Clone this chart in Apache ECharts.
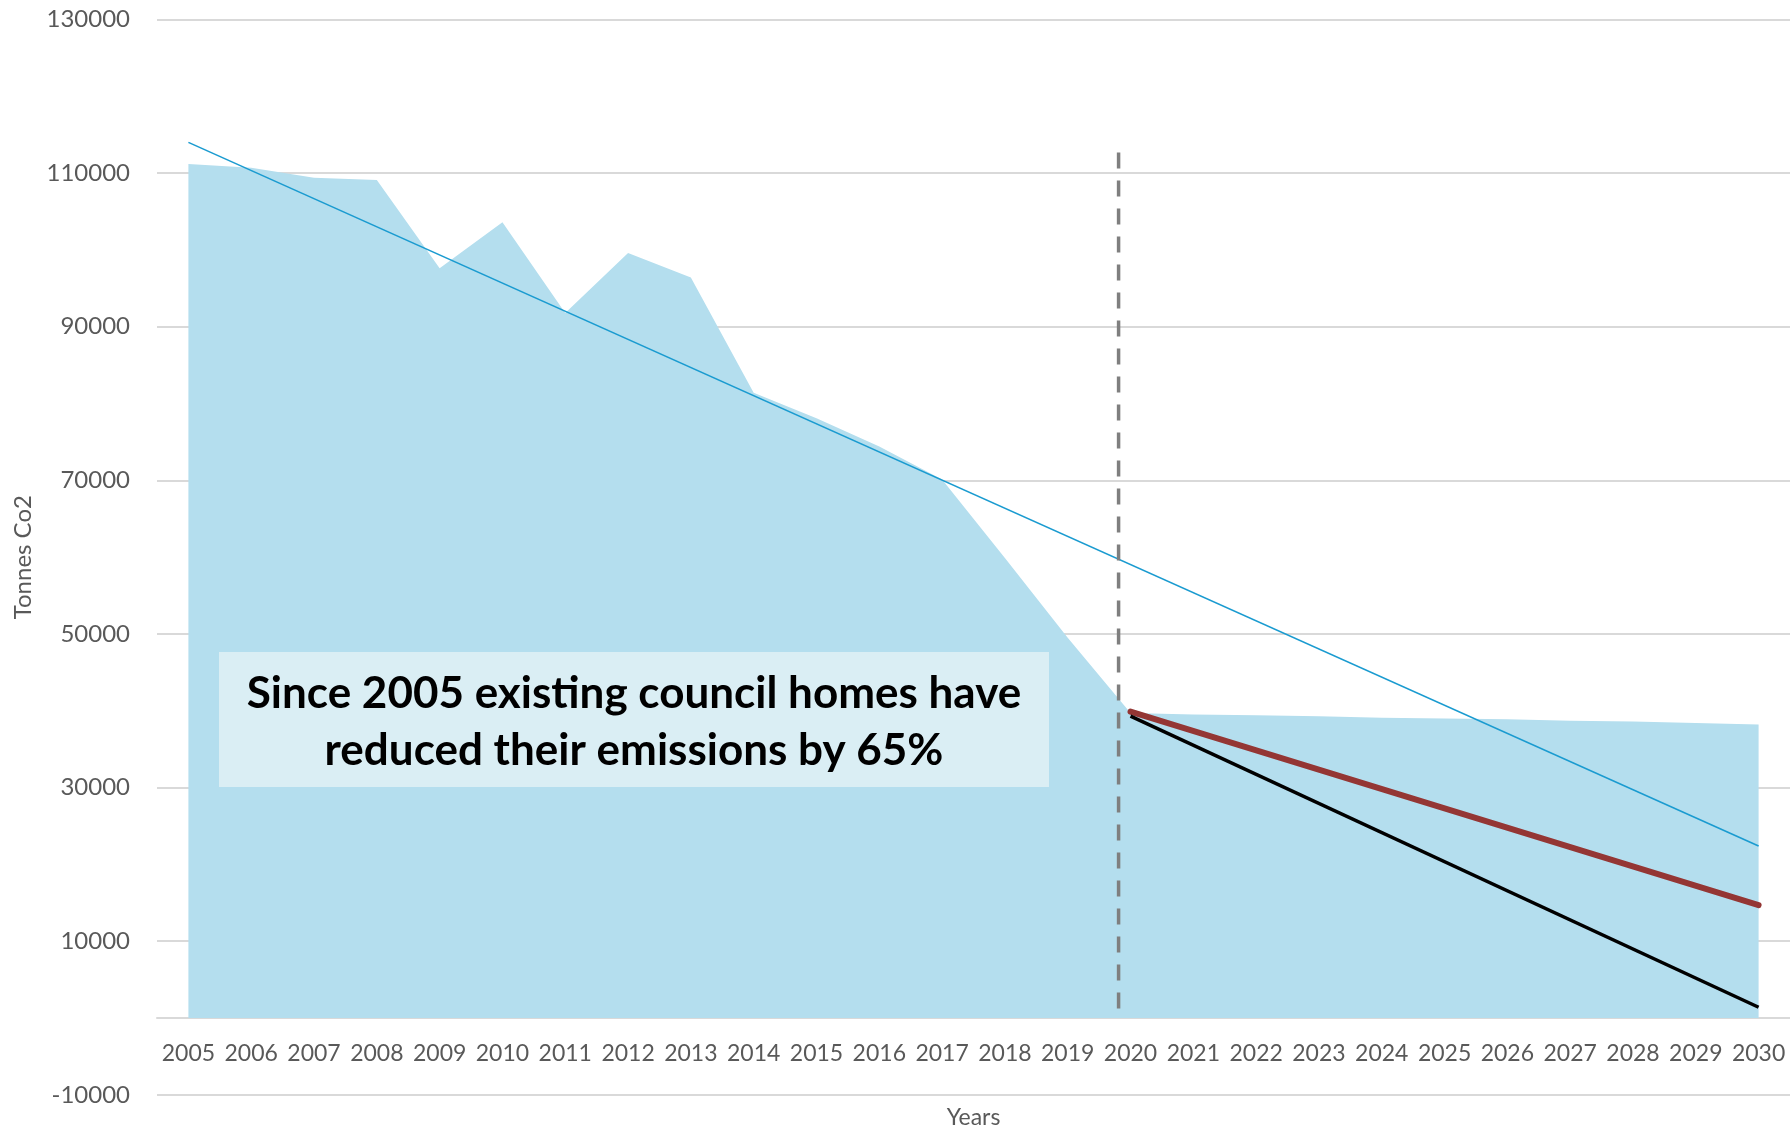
<!DOCTYPE html>
<html>
<head>
<meta charset="utf-8">
<script src="https://cdn.jsdelivr.net/npm/echarts@6/dist/echarts.min.js"></script>
<style>
html,body{margin:0;padding:0;background:#fff;}
#chart{width:1790px;height:1128px;}
</style>
</head>
<body>
<div id="chart"></div>
<script>
// ---- data ----
const years = ['2005','2006','2007','2008','2009','2010','2011','2012','2013','2014','2015','2016','2017','2018','2019','2020','2021','2022','2023','2024','2025','2026','2027','2028','2029','2030'];
const emissions = [111200,110700,109400,109100,97600,103600,91800,99600,96400,81400,78100,74400,70100,59900,49500,39700,39500,39400,39300,39100,39000,38900,38700,38600,38400,38200];
// linear trend line: start (2005) and end (2030) values, straight between
const trend = [114000,null,null,null,null,null,null,null,null,null,null,null,null,null,null,null,null,null,null,null,null,null,null,null,null,22400];
// target pathways from 2020
const pathwayRed = [null,null,null,null,null,null,null,null,null,null,null,null,null,null,null,39900,null,null,null,null,null,null,null,null,null,14700];
const pathwayBlack = [null,null,null,null,null,null,null,null,null,null,null,null,null,null,null,39300,null,null,null,null,null,null,null,null,null,1400];
// vertical divider (year position, value range)
const dividerLine = [[2019.81, 112700],[2019.81, 500]];
const yTicks = [-10000, 10000, 30000, 50000, 70000, 90000, 110000, 130000];
const noteText = 'Since 2005 existing council homes have\nreduced their emissions by 65%';

const FONT = 'Lato';
const GRID = {left:157, right:0, top:19.5, bottom:33.2, containLabel:false, outerBoundsMode:'none'};
const chart = echarts.init(document.getElementById('chart'), null, {renderer:'canvas'});
// shift of category axis so it sits on the value 0 line
const gridH = 1128 - GRID.top - GRID.bottom;
const zeroShift = gridH * (0 - yTicks[0]) / (yTicks[yTicks.length-1] - yTicks[0]);
chart.setOption({
  animation:false,
  backgroundColor:'#ffffff',
  textStyle:{fontFamily:FONT},
  grid:[Object.assign({}, GRID), Object.assign({}, GRID)],
  xAxis:[{
    type:'category', gridIndex:0, position:'bottom', offset:-zeroShift,
    data:years,
    boundaryGap:true,
    axisLine:{show:true, onZero:false, lineStyle:{color:'#D9D9D9', width:2}},
    axisTick:{show:false},
    axisLabel:{interval:0, color:'#595959', fontSize:23, fontFamily:FONT, margin:24, hideOverlap:false},
    name:'Years', nameLocation:'middle', nameGap:88,
    nameTextStyle:{color:'#595959', fontSize:23, fontFamily:FONT},
    splitLine:{show:false}
  },{
    type:'value', gridIndex:1, min:2004.5, max:2030.5, show:false
  }],
  yAxis:[{
    type:'value', gridIndex:0, min:yTicks[0], max:yTicks[yTicks.length-1], interval:20000,
    axisLine:{show:false}, axisTick:{show:false},
    axisLabel:{color:'#595959', fontSize:24, fontFamily:FONT, margin:27, formatter:function(v){return String(v);}},
    splitLine:{show:true, lineStyle:{color:'#D9D9D9', width:2}},
    name:'Tonnes Co2', nameLocation:'middle', nameGap:121,
    nameTextStyle:{color:'#595959', fontSize:24, fontFamily:FONT}
  },{
    type:'value', gridIndex:1, min:yTicks[0], max:yTicks[yTicks.length-1], show:false
  }],
  graphic:[{
    type:'group', left:219, top:652, z:100,
    children:[
      {type:'rect', z:100, shape:{x:0,y:0,width:830,height:135}, style:{fill:'#DAEEF4'}},
      {type:'text', z:101, x:415, y:70, style:{text:noteText, fill:'#000', font:'bold 44px '+FONT, align:'center', verticalAlign:'middle', textAlign:'center', textVerticalAlign:'middle', lineHeight:57}}
    ]
  }],
  series:[
    {type:'line', name:'Emissions', data:emissions, symbol:'none', lineStyle:{width:0}, areaStyle:{color:'#B4DEEE', opacity:1}, z:1},
    {type:'line', name:'Trend', data:trend, connectNulls:true, symbol:'none', lineStyle:{color:'#1A9BD0', width:1.6}, z:3},
    {type:'line', name:'Red', data:pathwayRed, connectNulls:true, symbol:'none', lineStyle:{color:'#943634', width:6, cap:'round'}, z:4},
    {type:'line', name:'Black', data:pathwayBlack, connectNulls:true, symbol:'none', lineStyle:{color:'#000000', width:3.5}, z:4},
    {type:'line', name:'Divider', xAxisIndex:1, yAxisIndex:1, data:dividerLine, symbol:'none', lineStyle:{color:'#7F7F7F', width:3.5, type:[16,12]}, z:3}
  ]
});
</script>
</body>
</html>
